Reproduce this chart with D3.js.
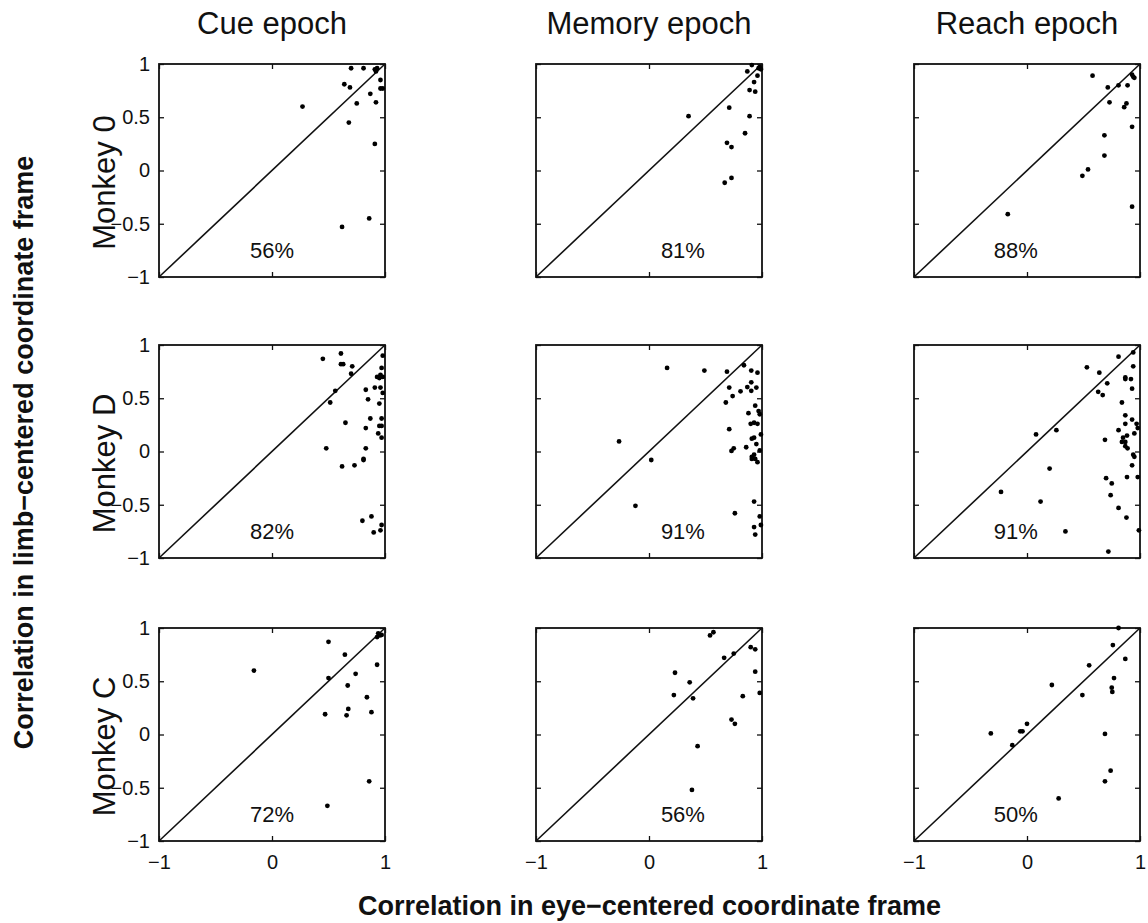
<!DOCTYPE html>
<html>
<head>
<meta charset="utf-8">
<script src="https://cdn.jsdelivr.net/npm/d3@7"></script>
<style>
  html, body { margin: 0; padding: 0; background: #fff; }
  svg { display: block; font-family: "Liberation Sans", Arial, Helvetica, sans-serif; }
</style>
</head>
<body>
<svg id="chart" width="1148" height="923"></svg>
<script>
// Column and row headings
const epochs = ["Cue epoch", "Memory epoch", "Reach epoch"];
const monkeys = ["Monkey 0", "Monkey D", "Monkey C"];

// Share of cells below the diagonal, row by row
const percents = [
  ["56%", "81%", "88%"],
  ["82%", "91%", "91%"],
  ["72%", "56%", "50%"]
];
// Horizontal position (data units) of the percentage label in each column
const percentX = [0, 0.3, -0.1];

const xTickValues = [-1, 0, 1];
const yTickValues = [-1, -0.5, 0, 0.5, 1];
const xTickLabels = ["\u22121", "0", "1"];
const yTickLabels = ["\u22121", "\u22120.5", "0", "0.5", "1"];

// [eye-centered r, limb-centered r] per cell
const cueMonkey0 = [[0.70,0.96],[0.81,0.96],[0.91,0.95],[0.92,0.93],[0.93,0.96],[0.64,0.81],[0.69,0.78],[0.96,0.85],[0.96,0.77],[0.98,0.77],[0.87,0.72],[0.75,0.63],[0.92,0.64],[0.27,0.60],[0.68,0.45],[0.91,0.25],[0.86,-0.45],[0.62,-0.53]];
const memoryMonkey0 = [[0.91,0.99],[0.98,0.97],[0.99,0.95],[0.97,0.96],[0.87,0.93],[0.96,0.89],[0.93,0.83],[0.89,0.755],[0.94,0.74],[0.71,0.59],[0.35,0.51],[0.89,0.51],[0.85,0.35],[0.69,0.26],[0.73,0.22],[0.73,-0.07],[0.67,-0.115]];
const reachMonkey0 = [[0.58,0.89],[0.715,0.78],[0.81,0.80],[0.89,0.80],[0.93,0.90],[0.95,0.87],[0.94,0.88],[0.73,0.64],[0.88,0.63],[0.86,0.595],[0.93,0.41],[0.685,0.33],[0.685,0.14],[0.54,0.01],[0.49,-0.05],[-0.17,-0.41],[0.93,-0.34]];

const cueMonkeyD = [[0.45,0.87],[0.61,0.92],[0.61,0.82],[0.63,0.82],[0.71,0.80],[0.70,0.73],[0.56,0.57],[0.515,0.46],[0.98,0.90],[0.97,0.785],[0.93,0.70],[0.95,0.69],[0.96,0.70],[0.98,0.70],[0.96,0.72],[0.91,0.60],[0.96,0.60],[0.83,0.58],[0.85,0.49],[0.98,0.55],[0.95,0.45],[0.87,0.31],[0.97,0.31],[0.65,0.27],[0.83,0.22],[0.95,0.24],[0.97,0.24],[0.94,0.17],[0.97,0.13],[0.48,0.03],[0.83,0.03],[0.81,-0.07],[0.81,-0.08],[0.62,-0.14],[0.73,-0.13],[0.80,-0.65],[0.88,-0.61],[0.90,-0.76],[0.97,-0.69],[0.96,-0.74]];
const memoryMonkeyD = [[0.16,0.785],[0.49,0.76],[0.69,0.75],[0.84,0.81],[0.905,0.76],[0.96,0.74],[0.71,0.60],[0.74,0.52],[0.81,0.565],[0.87,0.605],[0.905,0.65],[0.905,0.57],[0.95,0.60],[0.68,0.46],[0.94,0.43],[0.88,0.36],[0.97,0.38],[0.98,0.35],[0.90,0.26],[0.93,0.27],[0.96,0.26],[0.71,0.21],[-0.265,0.095],[0.99,0.16],[0.91,0.12],[0.93,0.13],[0.95,0.07],[0.86,0.04],[0.75,0.03],[0.73,0.005],[0.98,0.01],[0.91,-0.05],[0.93,-0.03],[0.91,-0.07],[0.94,-0.07],[0.96,-0.10],[0.02,-0.08],[0.93,-0.47],[-0.12,-0.51],[0.76,-0.58],[0.98,-0.61],[0.93,-0.71],[0.99,-0.69],[0.94,-0.78]];
const reachMonkeyD = [[0.81,0.89],[0.94,0.93],[0.94,0.80],[0.53,0.79],[0.64,0.74],[0.71,0.64],[0.87,0.695],[0.87,0.68],[0.92,0.68],[0.93,0.59],[0.63,0.56],[0.67,0.53],[0.84,0.46],[0.87,0.34],[0.93,0.30],[0.87,0.26],[0.97,0.26],[0.98,0.22],[0.81,0.20],[0.26,0.20],[0.08,0.16],[0.885,0.15],[0.95,0.17],[0.85,0.13],[0.87,0.09],[0.84,0.09],[0.87,0.05],[0.89,0.03],[0.69,0.11],[0.94,-0.03],[0.95,-0.05],[0.93,-0.13],[0.20,-0.16],[0.885,-0.24],[0.98,-0.24],[0.70,-0.25],[0.75,-0.30],[-0.23,-0.38],[0.74,-0.41],[0.12,-0.47],[0.81,-0.53],[0.88,-0.62],[0.34,-0.75],[0.99,-0.74],[0.72,-0.94]];

const cueMonkeyC = [[-0.16,0.60],[0.50,0.87],[0.645,0.75],[0.50,0.53],[0.74,0.57],[0.67,0.46],[0.93,0.655],[0.93,0.915],[0.955,0.93],[0.97,0.935],[0.94,0.95],[0.84,0.35],[0.47,0.19],[0.675,0.24],[0.66,0.18],[0.88,0.21],[0.86,-0.44],[0.49,-0.67]];
const memoryMonkeyC = [[0.54,0.93],[0.57,0.96],[0.665,0.72],[0.75,0.76],[0.90,0.82],[0.94,0.80],[0.23,0.58],[0.36,0.49],[0.22,0.37],[0.39,0.34],[0.94,0.59],[0.83,0.36],[0.98,0.39],[0.73,0.14],[0.76,0.10],[0.43,-0.11],[0.38,-0.52]];
const reachMonkeyC = [[0.81,1.0],[0.76,0.84],[0.87,0.71],[0.55,0.65],[0.77,0.53],[0.75,0.44],[0.755,0.40],[0.22,0.465],[0.49,0.37],[0.0,0.10],[-0.06,0.03],[-0.04,0.03],[-0.32,0.01],[-0.13,-0.10],[0.69,0.005],[0.74,-0.34],[0.69,-0.44],[0.28,-0.60]];

const cells = [
  [cueMonkey0, memoryMonkey0, reachMonkey0],
  [cueMonkeyD, memoryMonkeyD, reachMonkeyD],
  [cueMonkeyC, memoryMonkeyC, reachMonkeyC]
];

// Grid geometry
const panelW = 226, panelH = 213;
const colLeft = [159, 536, 914];
const rowTop = [64, 345, 628];

const svg = d3.select("#chart");

const x = d3.scaleLinear().domain([-1, 1]).range([0, panelW]);
const y = d3.scaleLinear().domain([-1, 1]).range([panelH, 0]);

const fmtX = d => xTickLabels[xTickValues.indexOf(d)];
const fmtY = d => yTickLabels[yTickValues.indexOf(d)];

cells.forEach((row, r) => {
  row.forEach((pts, c) => {
    const g = svg.append("g").attr("transform", `translate(${colLeft[c]},${rowTop[r]})`);

    // inward ticks on all four sides
    const left = d3.axisLeft(y).tickValues(yTickValues).tickSize(-5).tickPadding(9)
      .tickFormat(c === 0 ? fmtY : () => "");
    const right = d3.axisRight(y).tickValues(yTickValues).tickSize(-5).tickFormat(() => "");
    const bottom = d3.axisBottom(x).tickValues(xTickValues).tickSize(-5).tickPadding(14)
      .tickFormat(r === 2 ? fmtX : () => "");
    const top = d3.axisTop(x).tickValues(xTickValues).tickSize(-5).tickFormat(() => "");

    const axes = [
      g.append("g").call(left),
      g.append("g").attr("transform", `translate(${panelW},0)`).call(right),
      g.append("g").attr("transform", `translate(0,${panelH})`).call(bottom),
      g.append("g").call(top)
    ];
    axes.forEach(a => {
      a.select(".domain").remove();
      a.selectAll(".tick line").attr("stroke", "#111").attr("stroke-width", 1.3);
      a.selectAll(".tick text").attr("fill", "#111").style("font-size", "20px")
        .style("font-family", "'Liberation Sans', Arial, sans-serif");
    });

    // frame
    g.append("rect").attr("x", 0).attr("y", 0).attr("width", panelW).attr("height", panelH)
      .attr("fill", "none").attr("stroke", "#111").attr("stroke-width", 1.8);

    // identity line
    g.append("line")
      .attr("x1", x(-1)).attr("y1", y(-1)).attr("x2", x(1)).attr("y2", y(1))
      .attr("stroke", "#111").attr("stroke-width", 1.6);

    // cells
    g.append("g").selectAll("circle").data(pts).join("circle")
      .attr("cx", d => x(d[0])).attr("cy", d => y(d[1])).attr("r", 2.4)
      .attr("fill", "#000");

    // percentage below diagonal
    g.append("text")
      .attr("x", x(percentX[c])).attr("y", y(-0.82))
      .attr("text-anchor", "middle")
      .style("font-size", "22px").attr("fill", "#111")
      .text(percents[r][c]);
  });
});

// column titles
epochs.forEach((t, c) => {
  svg.append("text")
    .attr("x", colLeft[c] + panelW / 2).attr("y", 34)
    .attr("text-anchor", "middle")
    .style("font-size", "31px").attr("fill", "#111")
    .text(t);
});

// row titles
monkeys.forEach((t, r) => {
  const cy = rowTop[r] + panelH / 2 + 12;
  svg.append("text")
    .attr("transform", `translate(115,${cy}) rotate(-90)`)
    .attr("text-anchor", "middle")
    .style("font-size", "31px").attr("fill", "#111")
    .text(t);
});

// shared axis titles, centred on the grid
const gridMidX = (colLeft[0] + colLeft[2] + panelW) / 2;
const gridMidY = (rowTop[0] + rowTop[2] + panelH) / 2;

svg.append("text")
  .attr("transform", `translate(33,${gridMidY}) rotate(-90)`)
  .attr("text-anchor", "middle")
  .style("font-size", "27px").style("font-weight", "bold").attr("fill", "#111")
  .text("Correlation in limb\u2212centered coordinate frame");

svg.append("text")
  .attr("x", gridMidX).attr("y", 915)
  .attr("text-anchor", "middle")
  .style("font-size", "27px").style("font-weight", "bold").attr("fill", "#111")
  .text("Correlation in eye\u2212centered coordinate frame");
</script>
</body>
</html>
